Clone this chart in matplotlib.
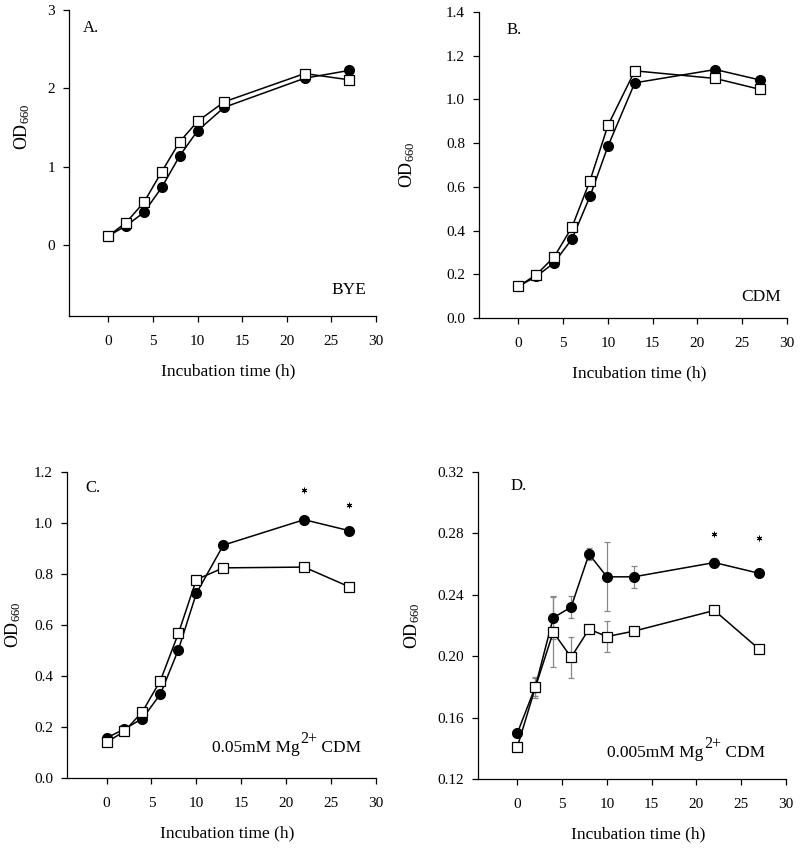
import matplotlib
matplotlib.use('Agg')
import matplotlib.pyplot as plt

plt.rcParams['font.family'] = ['Liberation Serif', 'DejaVu Serif']
plt.rcParams['mathtext.default'] = 'regular'

# Sampling times (h)
time_h = [0, 2, 4, 6, 8, 10, 13, 22, 27]

# A. BYE
a_filled = [0.12, 0.25, 0.42, 0.74, 1.14, 1.46, 1.76, 2.13, 2.23]
a_open = [0.12, 0.29, 0.55, 0.94, 1.32, 1.58, 1.83, 2.19, 2.11]

# B. CDM
b_filled = [0.145, 0.19, 0.253, 0.363, 0.557, 0.786, 1.076, 1.137, 1.089]
b_open = [0.145, 0.198, 0.28, 0.417, 0.629, 0.881, 1.131, 1.096, 1.046]

# C. 0.05mM Mg2+ CDM
c_filled = [0.157, 0.192, 0.233, 0.329, 0.503, 0.724, 0.913, 1.013, 0.970]
c_open = [0.140, 0.183, 0.26, 0.382, 0.567, 0.778, 0.824, 0.827, 0.750]
c_star_t = [22, 27]
c_star_y = [1.128, 1.072]

# D. 0.005mM Mg2+ CDM
d_filled = [0.150, 0.180, 0.225, 0.232, 0.2665, 0.2517, 0.2517, 0.261, 0.254]
d_filled_err = [0.0, 0.006, 0.014, 0.007, 0.004, 0.0225, 0.0073, 0.003, 0.0]
d_open = [0.141, 0.1796, 0.2157, 0.1993, 0.2176, 0.2128, 0.2163, 0.2298, 0.2046]
d_open_err = [0.0, 0.007, 0.023, 0.0135, 0.0, 0.0103, 0.0, 0.0, 0.0]
d_star_t = [22, 27]
d_star_y = [0.2796, 0.277]

fig = plt.figure(figsize=(8.0, 8.48), dpi=100)

panels = [
    # rect, ylim, yticks, yfmt, filled, open, letter, letter pos, ylabel x
    ([0.08625, 0.6274, 0.38375, 0.3608], (-0.9, 3.0), [0, 1, 2, 3], '{:.0f}',
     a_filled, a_open, 'A.', (0.046, 0.94), -0.12),
    ([0.59875, 0.6250, 0.38500, 0.3608], (0.0, 1.4), [0, 0.2, 0.4, 0.6, 0.8, 1.0, 1.2, 1.4], '{:.1f}',
     b_filled, b_open, 'B.', (0.088, 0.94), -0.20),
    ([0.08375, 0.0826, 0.38625, 0.3608], (0.0, 1.2), [0, 0.2, 0.4, 0.6, 0.8, 1.0, 1.2], '{:.1f}',
     c_filled, c_open, 'C.', (0.058, 0.948), -0.142),
    ([0.59750, 0.0814, 0.38500, 0.3620], (0.12, 0.32), [0.12, 0.16, 0.20, 0.24, 0.28, 0.32], '{:.2f}',
     d_filled, d_open, 'D.', (0.104, 0.955), -0.182),
]

axes = []
for rect, ylim, yticks, yfmt, filled, opened, letter, lpos, ylx in panels:
    ax = fig.add_axes(rect)
    ax.plot(time_h, filled, color='black', lw=1.1, marker='o', ms=7,
            mfc='black', mec='black', zorder=3)
    ax.plot(time_h, opened, color='black', lw=1.1, marker='s', ms=6.5,
            mfc='white', mec='black', mew=0.9, zorder=4)
    ax.set_xlim(-4.4, 30)
    ax.set_ylim(*ylim)
    ax.set_xticks([0, 5, 10, 15, 20, 25, 30])
    ax.set_yticks(yticks)
    ax.set_yticklabels([yfmt.format(v) for v in yticks])
    ax.spines['top'].set_visible(False)
    ax.spines['right'].set_visible(False)
    ax.spines['left'].set_linewidth(0.9)
    ax.spines['bottom'].set_linewidth(0.9)
    ax.tick_params(direction='out', length=4, width=0.9, labelsize=11)
    ax.tick_params(axis='x', pad=10)
    ax.tick_params(axis='y', pad=6)
    ax.set_xlabel('Incubation time (h)', fontsize=12.5)
    ax.xaxis.set_label_coords(0.52, -0.155)
    ax.set_ylabel('OD$_{660}$', fontsize=13)
    ax.yaxis.set_label_coords(ylx, 0.5)
    ax.text(lpos[0], lpos[1], letter, transform=ax.transAxes, fontsize=12,
            ha='left', va='center')
    axes.append(ax)

# A's ylabel is centred on the 0-3 range
axes[0].yaxis.set_label_coords(-0.12, 0.62)

# medium labels
axes[0].text(0.97, 0.085, 'BYE', transform=axes[0].transAxes, fontsize=12.5,
             ha='right', va='center')
axes[1].text(0.98, 0.069, 'CDM', transform=axes[1].transAxes, fontsize=12.5,
             ha='right', va='center')


def mg_label(ax, x, y, conc):
    t1 = ax.text(x, y, conc + 'mM Mg', transform=ax.transAxes, fontsize=12.5,
                 ha='left', va='baseline')
    t2 = ax.annotate('2+', xy=(1, 0), xycoords=t1, xytext=(0.3, 6.5),
                     textcoords='offset points', fontsize=11.5, ha='left', va='bottom')
    ax.annotate(' CDM', xy=(1, 0), xycoords=t2, xytext=(0, -6.5),
                textcoords='offset points', fontsize=12.5, ha='left', va='bottom')


mg_label(axes[2], 0.469, 0.085, '0.05')
mg_label(axes[3], 0.419, 0.072, '0.005')

# significance stars
axes[2].plot(c_star_t, c_star_y, ls='none', marker=(6, 2, 0), ms=4, color='black', mew=0.7)
axes[3].plot(d_star_t, d_star_y, ls='none', marker=(6, 2, 0), ms=4, color='black', mew=0.7)

# error bars in D
axes[3].errorbar(time_h, d_filled, yerr=d_filled_err, fmt='none', ecolor='#888888',
                 elinewidth=0.9, capsize=2, capthick=0.9, zorder=2)
axes[3].errorbar(time_h, d_open, yerr=d_open_err, fmt='none', ecolor='#888888',
                 elinewidth=0.9, capsize=2, capthick=0.9, zorder=2)

fig.savefig('out.png', dpi=100)
